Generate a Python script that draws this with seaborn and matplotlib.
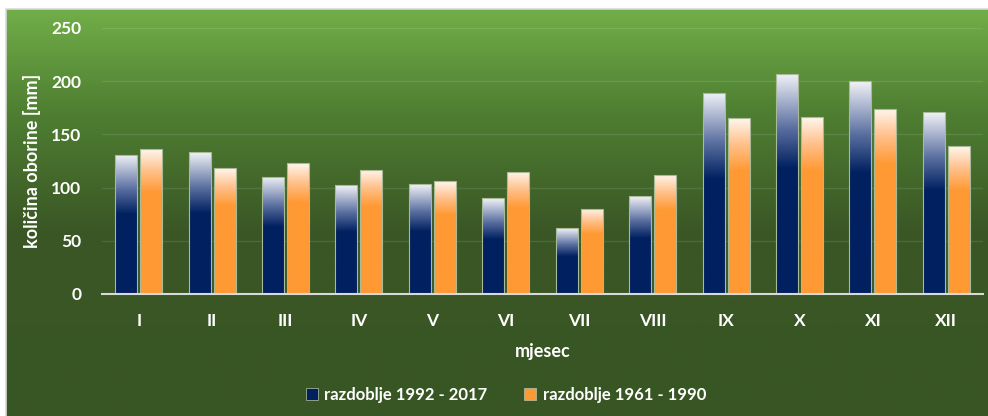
import numpy as np
import pandas as pd
import seaborn as sns
import matplotlib.pyplot as plt
from matplotlib.colors import LinearSegmentedColormap
from matplotlib.patches import Patch

mjeseci = ["I", "II", "III", "IV", "V", "VI", "VII", "VIII", "IX", "X", "XI", "XII"]
r1992 = [131, 133, 110, 102, 103, 90, 62, 92, 189, 207, 200, 171]
r1961 = [136, 118, 123, 117, 106, 115, 80, 112, 165, 166, 174, 139]
serije = ["razdoblje 1992 - 2017", "razdoblje 1961 - 1990"]

navy = "#002060"
orange = "#ff9933"

df = pd.DataFrame({
    "mjesec": mjeseci * 2,
    "oborina": r1992 + r1961,
    "razdoblje": [serije[0]] * 12 + [serije[1]] * 12,
})

sns.set_style("white")
plt.rcParams["font.family"] = ["Lato", "DejaVu Sans"]

fig = plt.figure(figsize=(9.88, 4.16), dpi=100, facecolor="white")

# green gradient background of the chart area
bg = fig.add_axes([6 / 988, 0, 982 / 988, 407 / 416], zorder=0)
bg_cmap = LinearSegmentedColormap.from_list(
    "bg", [(0, "#385623"), (0.45, "#3a5625"), (0.75, "#4f7f32"), (1, "#71ae48")])
bg.imshow(np.linspace(0, 1, 256)[:, None], cmap=bg_cmap, aspect="auto",
          origin="lower", extent=(0, 1, 0, 1))
bg.set_axis_off()
fig.add_artist(plt.Line2D([6 / 988, 6 / 988, 1], [0, 407 / 416, 407 / 416],
                          color="#d9d9d9", lw=1.2, transform=fig.transFigure))

ax = fig.add_axes([102 / 988, 122 / 416, 881 / 988, 266 / 416], zorder=1)
ax.set_facecolor("none")

sns.barplot(data=df, x="mjesec", y="oborina", hue="razdoblje",
            palette=[navy, orange], width=0.68, gap=0.12, ax=ax,
            legend=False, errorbar=None)

cm_navy = LinearSegmentedColormap.from_list(
    "n", [(0, navy), (0.57, navy), (0.75, "#5a6fa0"), (1, "#f2f3f8")])
cm_orange = LinearSegmentedColormap.from_list(
    "o", [(0, orange), (0.7, orange), (0.85, "#ffc08a"), (1, "#fff6ee")])

grad = np.linspace(0, 1, 256)[:, None]
for i, p in enumerate(ax.patches):
    x0 = p.get_x()
    w = p.get_width()
    h = p.get_height()
    cm = cm_navy if i < 12 else cm_orange
    im = ax.imshow(grad, cmap=cm, aspect="auto", origin="lower",
                   extent=(x0, x0 + w, 0, h), zorder=2)
    im.set_clip_path(p)
    p.set_facecolor("none")
    p.set_edgecolor("#a9ba98")
    p.set_linewidth(0.8)
    p.set_zorder(3)

ax.set_xlim(-0.5, 11.5)
ax.set_ylim(0, 250)
ax.set_yticks([0, 50, 100, 150, 200, 250])
ax.yaxis.grid(True, color="white", alpha=0.1, lw=1)
ax.set_axisbelow(True)
for s in ["top", "right", "left"]:
    ax.spines[s].set_visible(False)
ax.spines["bottom"].set_color("#d9d9d9")
ax.spines["bottom"].set_linewidth(1.5)
ax.spines["bottom"].set_zorder(4)
ax.tick_params(axis="both", length=0, colors="white", labelsize=12.5)
ax.tick_params(axis="y", pad=15)
ax.tick_params(axis="x", pad=14)
for t in ax.get_xticklabels() + ax.get_yticklabels():
    t.set_fontweight("bold")

ax.set_xlabel("mjesec", color="white", fontsize=13, fontweight="bold", labelpad=10)
ax.set_ylabel("količina oborine [mm]", color="white", fontsize=13,
              fontweight="bold", labelpad=7)

handles = [Patch(facecolor=navy, edgecolor="#b9c8a8", lw=0.5),
           Patch(facecolor=orange, edgecolor="#b9c8a8", lw=0.5)]
leg = fig.legend(handles, serije, loc="center", bbox_to_anchor=(506 / 988, 1 - 395 / 416),
                 ncol=2, frameon=False, handlelength=0.7, handleheight=0.7,
                 handletextpad=0.4, columnspacing=2.2,
                 prop={"size": 12, "weight": "bold"})
for t in leg.get_texts():
    t.set_color("white")

fig.savefig("out.png", dpi=100, facecolor="white")
